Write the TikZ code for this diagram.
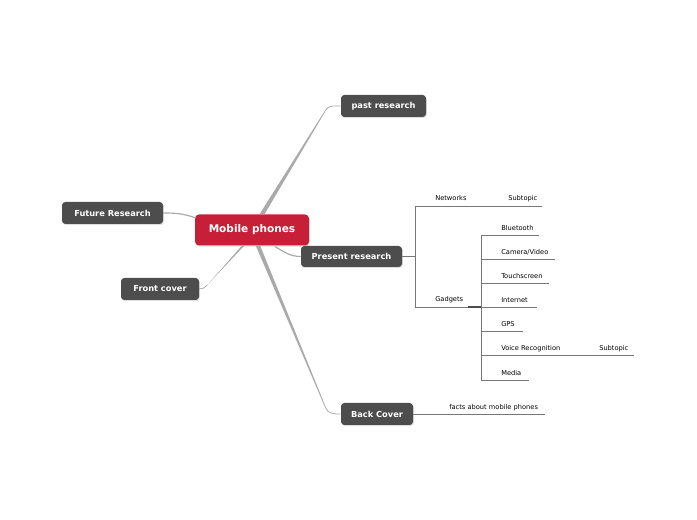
\documentclass[tikz,border=0pt]{standalone}
\usepackage{fontspec}
\setmainfont{DejaVu Sans}
\usetikzlibrary{calc,shadows}
\definecolor{mpred}{HTML}{C71F37}
\definecolor{topic}{HTML}{4D4D4D}
\definecolor{conn}{HTML}{AAAAAA}
\definecolor{sub}{HTML}{777777}
\tikzset{
  topicbox/.style={fill=topic, rounded corners=2.5pt, text=white, font=\bfseries\fontsize{6.2}{7}\selectfont, inner sep=0pt, drop shadow={opacity=0.25, shadow xshift=0.6pt, shadow yshift=-0.8pt}},
  centralbox/.style={fill=mpred, rounded corners=3pt, text=white, font=\bfseries\fontsize{7.9}{9}\selectfont, inner sep=0pt, drop shadow={opacity=0.25, shadow xshift=0.6pt, shadow yshift=-0.8pt}},
  leaf/.style={font=\fontsize{5}{6}\selectfont, text=black, inner sep=0pt, anchor=base west},
  thinconn/.style={draw=conn, line width=0.6pt},
  subline/.style={draw=sub, line width=0.5pt},
}
\begin{document}
\begin{tikzpicture}[x=0.75pt,y=-0.75pt]
\useasboundingbox (0,0) rectangle (697,520);
% nodes
\node[centralbox, minimum width=114*0.75pt, minimum height=31*0.75pt] (mp) at (252,230) {Mobile phones};
\node[topicbox, minimum width=85*0.75pt, minimum height=22*0.75pt] (past) at (383.5,106) {past research};
\node[topicbox, minimum width=101*0.75pt, minimum height=22*0.75pt] (future) at (112.5,213) {Future Research};
\node[topicbox, minimum width=101*0.75pt, minimum height=21*0.75pt] (present) at (351.5,256.5) {Present research};
\node[topicbox, minimum width=78*0.75pt, minimum height=22*0.75pt] (front) at (160,289) {Front cover};
\node[topicbox, minimum width=72*0.75pt, minimum height=22*0.75pt] (back) at (377,414) {Back Cover};

% connectors (tapered main branches)
\coordinate (pr0) at ($(mp.north)+(10,0)$);
\coordinate (pr1) at ($(past.west)+(-15,4)$);
\fill[conn] ($(pr0)+(-2.5,0)$) -- ($(pr1)+(-0.4,0)$) -- ($(pr1)+(0.4,0)$) -- ($(pr0)+(2.5,0)$) -- cycle;
\draw[thinconn] (pr1) to[out=58,in=180] (past.west);

\coordinate (bc0) at ($(mp.south)+(6,0)$);
\coordinate (bc1) at ($(back.west)+(-15,-6)$);
\fill[conn] ($(bc0)+(-2.2,0)$) -- ($(bc1)+(-0.4,0)$) -- ($(bc1)+(0.4,0)$) -- ($(bc0)+(2.2,0)$) -- cycle;
\draw[thinconn] (bc1) to[out=-70,in=180] (back.west);

\coordinate (fc0) at ($(mp.south)+(-9,0)$);
\coordinate (fc1) at ($(front.east)+(8,-4)$);
\fill[conn] ($(fc0)+(-1.2,0)$) -- (fc1) -- ($(fc0)+(1.2,0)$) -- cycle;
\draw[thinconn] (fc1) to[out=-128,in=0] (front.east);

\coordinate (fr0) at ($(mp.west)+(1,-12)$);
\draw[thinconn, line width=0.9pt] (fr0) to[out=160,in=0] (future.east);

\coordinate (ps0) at ($(mp.south east)+(-34,1)$);
\draw[thinconn, line width=0.9pt] (ps0) to[out=-30,in=180] (present.west);

% Present research subtree
\coordinate (pj) at (415,256.5);
\coordinate (nw) at (415,206);
\coordinate (gd) at (415,307);
\draw[subline] (present.east) -- (pj);
\draw[subline] (nw) -- (gd);
\coordinate (nwend) at (542,206);
\draw[subline] (nw) -- (nwend);
\node[leaf] (networks) at (435,201) {Networks};
\node[leaf] (nwsub) at (508,201) {Subtopic};

\coordinate (gj) at (481,307);
\draw[subline] (gd) -- (gj);
\draw[draw=black!70, line width=1pt] (468,307) -- (gj);
\node[leaf] (gadgets) at (435,302) {Gadgets};
\coordinate (gtop) at (481,235);
\coordinate (gbot) at (481,380);
\draw[subline] (gtop) -- (gbot);

\foreach \y/\e/\t/\n in {235/539/Bluetooth/bt, 259/555/Camera\slash Video/cam, 283/549/Touchscreen/ts, 307/537/Internet/int, 331/523/GPS/gps, 355/634/Voice Recognition/vr, 380/529/Media/med}{
  \draw[subline] (481,\y) -- (\e,\y);
  \node[leaf] (\n) at (501,\y-4.5) {\t};
}
\node[leaf] (vrsub) at (599,350.5) {Subtopic};

% Back cover subtree
\coordinate (bcend) at (545,414);
\draw[subline] (back.east) -- (bcend);
\node[leaf] (facts) at (449,409.5) {facts about mobile phones};
\end{tikzpicture}
\end{document}
